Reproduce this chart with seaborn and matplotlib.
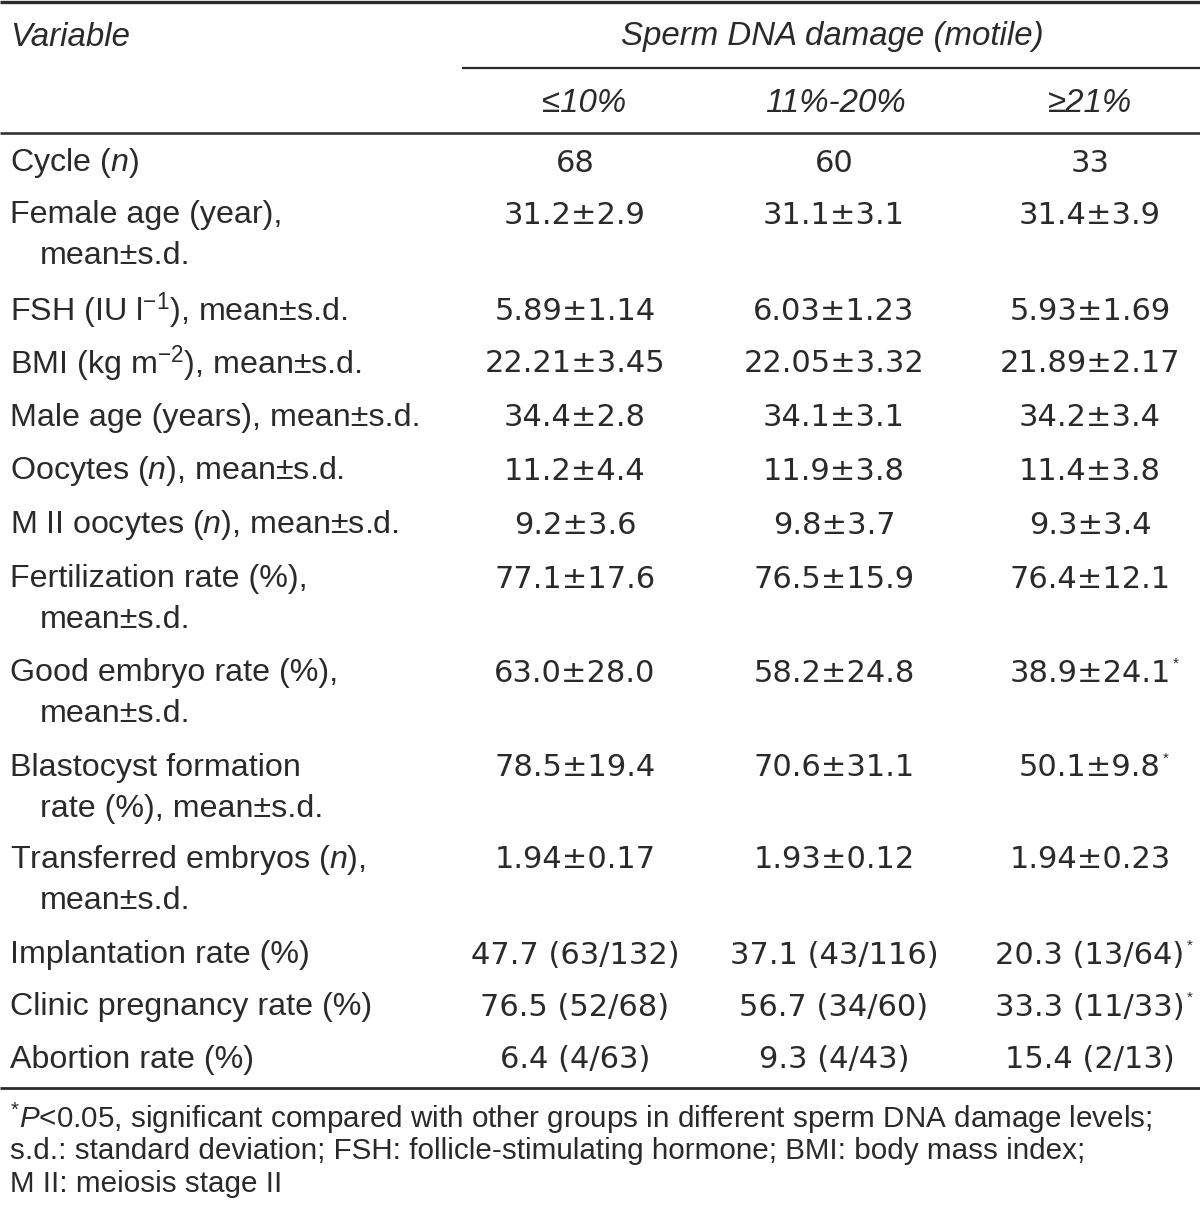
import matplotlib
matplotlib.use("Agg")
import matplotlib.pyplot as plt
import seaborn as sns

sns.set_theme(style="white")
plt.rcParams["font.family"] = ["Liberation Sans", "DejaVu Sans"]
plt.rcParams["mathtext.fontset"] = "custom"
plt.rcParams["mathtext.rm"] = "Liberation Sans"
plt.rcParams["mathtext.it"] = "Liberation Sans:italic"
plt.rcParams["mathtext.bf"] = "Liberation Sans:bold"
plt.rcParams["mathtext.sf"] = "Liberation Sans"

# ---------------- data ----------------
header_left = "Variable"
group_title = "Sperm DNA damage (motile)"
groups = ["≤10%", "11%-20%", "≥21%"]

variables = [
    ["Cycle ($\\mathit{n}$)"],
    ["Female age (year),", "mean±s.d."],
    ["FSH (IU l$^{\\mathrm{-1}}$), mean±s.d."],
    ["BMI (kg m$^{\\mathrm{-2}}$), mean±s.d."],
    ["Male age (years), mean±s.d."],
    ["Oocytes ($\\mathit{n}$), mean±s.d."],
    ["M II oocytes ($\\mathit{n}$), mean±s.d."],
    ["Fertilization rate (%),", "mean±s.d."],
    ["Good embryo rate (%),", "mean±s.d."],
    ["Blastocyst formation", "rate (%), mean±s.d."],
    ["Transferred embryos ($\\mathit{n}$),", "mean±s.d."],
    ["Implantation rate (%)"],
    ["Clinic pregnancy rate (%)"],
    ["Abortion rate (%)"],
]

low_damage = ["68", "31.2±2.9", "5.89±1.14", "22.21±3.45", "34.4±2.8", "11.2±4.4",
              "9.2±3.6", "77.1±17.6", "63.0±28.0", "78.5±19.4", "1.94±0.17",
              "47.7 (63/132)", "76.5 (52/68)", "6.4 (4/63)"]
mid_damage = ["60", "31.1±3.1", "6.03±1.23", "22.05±3.32", "34.1±3.1", "11.9±3.8",
              "9.8±3.7", "76.5±15.9", "58.2±24.8", "70.6±31.1", "1.93±0.12",
              "37.1 (43/116)", "56.7 (34/60)", "9.3 (4/43)"]
high_damage = ["33", "31.4±3.9", "5.93±1.69", "21.89±2.17", "34.2±3.4", "11.4±3.8",
               "9.3±3.4", "76.4±12.1", "38.9±24.1", "50.1±9.8", "1.94±0.23",
               "20.3 (13/64)", "33.3 (11/33)", "15.4 (2/13)"]
high_damage_significant = [False, False, False, False, False, False, False, False,
                           True, True, False, True, True, False]

footnote = [
    "$^{*}\\mathit{P}$<0.05, significant compared with other groups in different sperm DNA damage levels;",
    "s.d.: standard deviation; FSH: follicle-stimulating hormone; BMI: body mass index;",
    "M II: meiosis stage II",
]

# ---------------- layout ----------------
W, H = 1200, 1213
row_y = [163, 215, 311, 364, 418, 471, 525, 579, 673, 768, 860, 955, 1007, 1060]
line_gap = 41
col_x = [575, 834, 1090]
head_x = [584, 836, 1090]
text_color = "#2a2a2a"
fs_label = 23.2
fs_value = 22
fs_head = 23.8
value_font = ["DejaVu Sans"]

fig = plt.figure(figsize=(W / 100, H / 100), dpi=100)
ax = fig.add_axes([0, 0, 1, 1])
ax.set_xlim(0, W)
ax.set_ylim(H, 0)
ax.axis("off")

# rules
ax.plot([0, W], [2, 2], color=text_color, lw=2.4, solid_capstyle="butt")
ax.plot([462, W], [68, 68], color=text_color, lw=1.6, solid_capstyle="butt")
ax.plot([0, W], [133, 133], color=text_color, lw=1.8, solid_capstyle="butt")
ax.plot([0, W], [1088, 1088], color=text_color, lw=2.0, solid_capstyle="butt")

# header
ax.text(10, 37, header_left, fontsize=fs_head, style="italic", color=text_color,
        ha="left", va="center")
ax.text(832, 37, group_title, fontsize=fs_head, style="italic", color=text_color,
        ha="center", va="center")
for x, g in zip(head_x, groups):
    ax.text(x, 103, g, fontsize=fs_head, style="italic", color=text_color,
            ha="center", va="center")

# body
for y, var, a, b, c, sig in zip(row_y, variables, low_damage, mid_damage,
                                 high_damage, high_damage_significant):
    ax.text(10, y, var[0], fontsize=fs_label, color=text_color, ha="left", va="center")
    if len(var) > 1:
        ax.text(40, y + line_gap, var[1], fontsize=fs_label, color=text_color,
                ha="left", va="center")
    for x, v in zip(col_x, (a, b, c)):
        ax.text(x, y, v, fontsize=fs_value, color=text_color, ha="center",
                va="center", family=value_font)
    if sig:
        t = ax.text(col_x[2], y, c, fontsize=fs_value, color="none", ha="center",
                    va="center", family=value_font)
        fig.canvas.draw()
        bb = t.get_window_extent().transformed(ax.transData.inverted())
        ax.text(bb.x1 + 2, y - 9, "*", fontsize=11, color=text_color, ha="left",
                va="center")

# footnote
for i, line in enumerate(footnote):
    ax.text(10, 1118 + i * 33, line, fontsize=21.3, color=text_color,
            ha="left", va="center")

fig.savefig("out.png", dpi=100)
